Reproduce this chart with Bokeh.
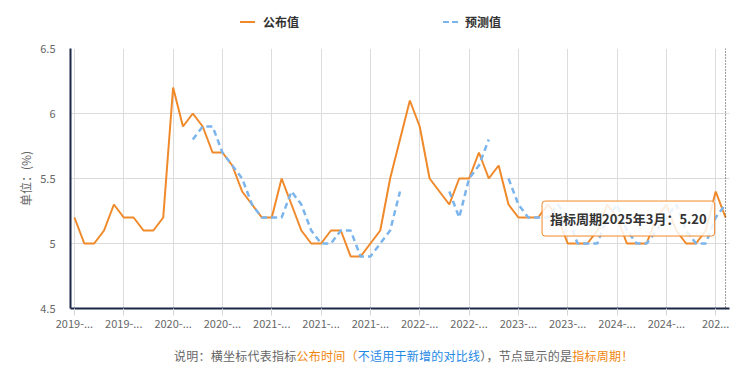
from bokeh.plotting import figure
from bokeh.models import Range1d, FixedTicker, Label, Span, NumeralTickFormatter, Div
from bokeh.layouts import column
from bokeh.embed import file_html
from bokeh.resources import INLINE

# ---- data ----
x_tick_pos = [0, 5, 10, 15, 20, 25, 30, 35, 40, 45, 50, 55, 60, 65]
x_tick_labels = ["2019-...", "2019-...", "2020-...", "2020-...", "2021-...", "2021-...", "2021-...",
                 "2022-...", "2022-...", "2023-...", "2023-...", "2024-...", "2024-...", "202..."]
y_ticks = [4.5, 5.0, 5.5, 6.0, 6.5]

published = [5.2, 5.0, 5.0, 5.1, 5.3, 5.2, 5.2, 5.1, 5.1, 5.2,
             6.2, 5.9, 6.0, 5.9, 5.7, 5.7, 5.6, 5.4, 5.3, 5.2, 5.2,
             5.5, 5.3, 5.1, 5.0, 5.0, 5.1, 5.1, 4.9, 4.9, 5.0, 5.1,
             5.5, 5.8, 6.1, 5.9, 5.5, 5.4, 5.3, 5.5, 5.5, 5.7, 5.5,
             5.6, 5.3, 5.2, 5.2, 5.2, 5.3, 5.2, 5.0, 5.0, 5.0, 5.1,
             5.3, 5.2, 5.0, 5.0, 5.0, 5.2, 5.3, 5.1, 5.0, 5.0, 5.1,
             5.4, 5.2]

forecast = [None] * 12 + \
           [5.8, 5.9, 5.9, 5.7, 5.6, 5.5, 5.3, 5.2, 5.2, 5.2,
            5.4, 5.3, 5.1, 5.0, 5.0, 5.1, 5.1, 4.9, 4.9, 5.0, 5.1, 5.4] + \
           [None] * 4 + \
           [5.4, 5.2, 5.5, 5.6, 5.8] + \
           [None] + \
           [5.5, 5.3, 5.2, 5.2, 5.2, 5.3, 5.2, 5.0, 5.0, 5.0,
            5.2, 5.3, 5.1, 5.0, 5.0, 5.1, 5.2, 5.3, 5.1, 5.0, 5.0, 5.2, 5.3]

series_names = ["公布值", "预测值"]
tooltip_text = "指标周期2025年3月：5.20"
note_parts = ["说明：横坐标代表指标", "公布时间（", "不适用于新增的对比线", "），节点显示的是", "指标周期！"]

# ---- style ----
ORANGE = "#F0892A"
BLUE = "#7CB5EC"
NOTE_COLORS = ["#666666", "#F0860D", "#1E88E5", "#666666", "#F0860D"]
FONT = "Noto Sans CJK SC"
AXIS = "#1C2747"

nan = float("nan")
idx = list(range(len(published)))
fc = [nan if v is None else v for v in forecast]

p = figure(frame_width=659, frame_height=260, output_backend="svg", toolbar_location=None,
           x_range=Range1d(-0.4, 66.4), y_range=Range1d(4.5, 6.5),
           min_border_left=70, min_border_right=7, min_border_top=12, min_border_bottom=30,
           margin=(0, 0, 0, 0))
p.outline_line_color = None
p.background_fill_color = "white"

r1 = p.line(idx, published, line_color=ORANGE, line_width=2)
r2 = p.line(idx, fc, line_color=BLUE, line_width=2.5, line_dash="6 4")

# axes
p.xaxis.ticker = FixedTicker(ticks=x_tick_pos)
p.xaxis.major_label_overrides = {k: v for k, v in zip(x_tick_pos, x_tick_labels)}
p.yaxis.ticker = FixedTicker(ticks=y_ticks)
p.yaxis.formatter = NumeralTickFormatter(format="0.[0]")
for ax in (p.xaxis[0], p.yaxis[0]):
    ax.axis_line_color = AXIS
    ax.axis_line_width = 2
    ax.minor_tick_line_color = None
    ax.major_label_text_font = FONT
    ax.major_label_text_font_size = "11px"
    ax.major_label_text_color = "#666666"
p.xaxis.major_tick_line_color = "#D6D6D6"
p.xaxis.major_tick_out = 7
p.xaxis.major_tick_in = 0
p.xaxis.major_label_standoff = 4
p.yaxis.major_tick_line_color = None
p.yaxis.major_label_standoff = 9
p.yaxis.axis_label = "单位：(%)"
p.yaxis.axis_label_text_font = FONT
p.yaxis.axis_label_text_font_size = "12px"
p.yaxis.axis_label_text_font_style = "normal"
p.yaxis.axis_label_text_color = "#666666"
p.yaxis.axis_label_standoff = 3

p.xgrid.grid_line_color = "#DCDCDC"
p.ygrid.grid_line_color = "#DCDCDC"

# hover crosshair at the last point
p.add_layout(Span(location=idx[-1], dimension="height", line_color="#333333",
                  line_dash="1 2", line_width=1))

# tooltip
p.add_layout(Label(x=47.4, y=5.192, text=tooltip_text, text_font=FONT, text_font_size="13px",
                   text_font_style="bold", text_color="#333333", text_baseline="middle",
                   text_align="left", background_fill_color="white", background_fill_alpha=0.85,
                   border_line_color=ORANGE, border_line_width=1, padding=8, border_radius=3))

# legend (HTML)
legend_html = (
    f'<div style="position:relative;width:736px;height:36px;font-family:\'{FONT}\';'
    f'font-size:12px;font-weight:bold;color:#333333;">'
    f'<span style="position:absolute;left:240px;top:21px;width:15px;border-top:2px solid {ORANGE};"></span>'
    f'<span style="position:absolute;left:263px;top:12px;line-height:20px;">{series_names[0]}</span>'
    f'<span style="position:absolute;left:443px;top:21px;width:6px;border-top:2px solid {BLUE};"></span>'
    f'<span style="position:absolute;left:452px;top:21px;width:6px;border-top:2px solid {BLUE};"></span>'
    f'<span style="position:absolute;left:465px;top:12px;line-height:20px;">{series_names[1]}</span>'
    f'</div>'
)
legend_div = Div(text=legend_html, width=736, height=36, margin=(0, 0, 0, 0))

# note (HTML)
note_spans = "".join(f'<span style="color:{c};">{t}</span>' for t, c in zip(note_parts, NOTE_COLORS))
note_html = (
    f'<div style="position:relative;width:736px;height:34px;font-family:\'{FONT}\';font-size:12px;">'
    f'<div style="position:absolute;left:174px;top:8px;line-height:20px;white-space:nowrap;'
    f'letter-spacing:0.25px;">{note_spans}</div>'
    f'</div>'
)
note_div = Div(text=note_html, width=736, height=34, margin=(0, 0, 0, 0))

layout = column(legend_div, p, note_div, spacing=0)
open("out.html", "w").write(file_html(layout, INLINE))
